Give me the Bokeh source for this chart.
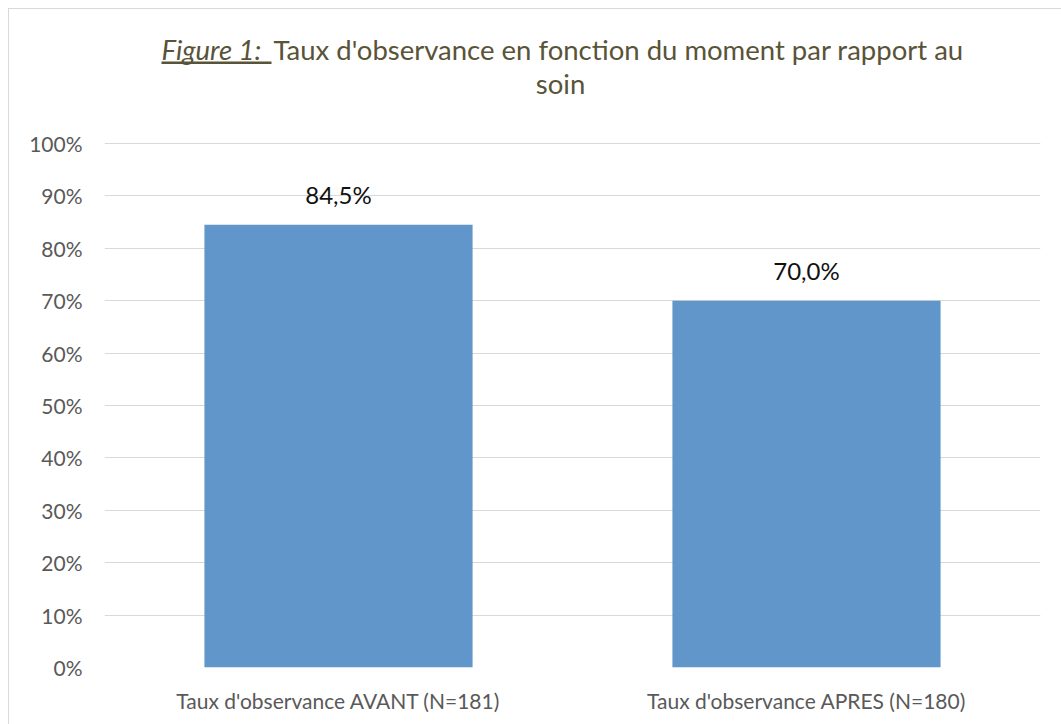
from bokeh.plotting import figure
from bokeh.models import Range1d, FixedTicker
from bokeh.core.properties import value
from bokeh.embed import file_html
from bokeh.resources import INLINE

# ---- data ----
categories = ["Taux d'observance AVANT (N=181)", "Taux d'observance APRES (N=180)"]
rates = [0.845, 0.700]
bar_labels = ["84,5%", "70,0%"]
y_ticks = [0.0, 0.1, 0.2, 0.3, 0.4, 0.5, 0.6, 0.7, 0.8, 0.9, 1.0]
y_tick_labels = ["0%", "10%", "20%", "30%", "40%", "50%", "60%", "70%", "80%", "90%", "100%"]
title_prefix = "Figure 1:"
title_line1 = "Taux d'observance en fonction du moment par rapport au"
title_line2 = "soin"

FONT = "Lato"
GRID = "#d9d9d9"
LABEL = "#595959"
TITLE = "#595338"
BAR = "#6096ca"
TXT_SHIFT = 10  # compensation for svg baseline placement (px)

xs = [i + 0.5 for i in range(len(categories))]

# page -> data helpers (frame: page x 104..1040, y 0% at 667, 524 px per unit)
def dx(px):
    return (px - 104) / 468.0

def dy(py):
    return (667 - py) / 524.0

p = figure(
    frame_width=936, frame_height=658,
    min_border_left=95, min_border_right=21, min_border_top=0, min_border_bottom=57,
    x_range=Range1d(0, len(categories)), y_range=Range1d(0, dy(9)),
    output_backend="svg", toolbar_location=None, tools="",
)
p.styles = {"margin-left": "8px", "margin-top": "8px",
            "border-left": "1px solid #d9d9d9", "border-top": "1px solid #d9d9d9"}
p.outline_line_color = None
p.background_fill_color = "white"
p.border_fill_color = "white"

p.vbar(x=xs, top=rates, width=0.573, fill_color=BAR, line_color=None)

p.text(x=xs, y=rates, text=bar_labels, y_offset=-30,
       text_font=value(FONT), text_font_size="24px", text_color="#111111",
       text_align="center", text_baseline="alphabetic")

# title
p.text(x=[dx(161)], y=[dy(59 - TXT_SHIFT)], text=[title_prefix], text_font=value(FONT),
       text_font_size="27.5px", text_font_style="italic", text_color=TITLE,
       text_align="left", text_baseline="alphabetic")
p.quad(left=[dx(161)], right=[dx(271)], top=[dy(61)], bottom=[dy(63.5)],
       fill_color=TITLE, line_color=None)
p.text(x=[dx(273)], y=[dy(59 - TXT_SHIFT)], text=[title_line1], text_font=value(FONT),
       text_font_size="27.5px", text_color=TITLE,
       text_align="left", text_baseline="alphabetic")
p.text(x=[dx(560)], y=[dy(93 - TXT_SHIFT)], text=[title_line2], text_font=value(FONT),
       text_font_size="27.5px", text_color=TITLE,
       text_align="center", text_baseline="alphabetic")

# axes
p.xaxis.ticker = FixedTicker(ticks=xs)
p.xaxis.major_label_overrides = {x: c for x, c in zip(xs, categories)}
p.yaxis.ticker = FixedTicker(ticks=y_ticks)
p.yaxis.major_label_overrides = {t: l for t, l in zip(y_ticks, y_tick_labels)}
for ax in (p.xaxis[0], p.yaxis[0]):
    ax.axis_line_color = None
    ax.major_tick_line_color = None
    ax.minor_tick_line_color = None
    ax.major_tick_out = 0
    ax.major_tick_in = 0
    ax.major_label_text_font = FONT
    ax.major_label_text_font_size = "21px"
    ax.major_label_text_color = LABEL
p.yaxis.major_label_standoff = 22
p.xaxis.major_label_standoff = 20

p.xgrid.grid_line_color = None
p.ygrid.ticker = FixedTicker(ticks=y_ticks)
p.ygrid.grid_line_color = GRID
p.ygrid.grid_line_width = 1

open("out.html", "w").write(file_html(p, INLINE))
